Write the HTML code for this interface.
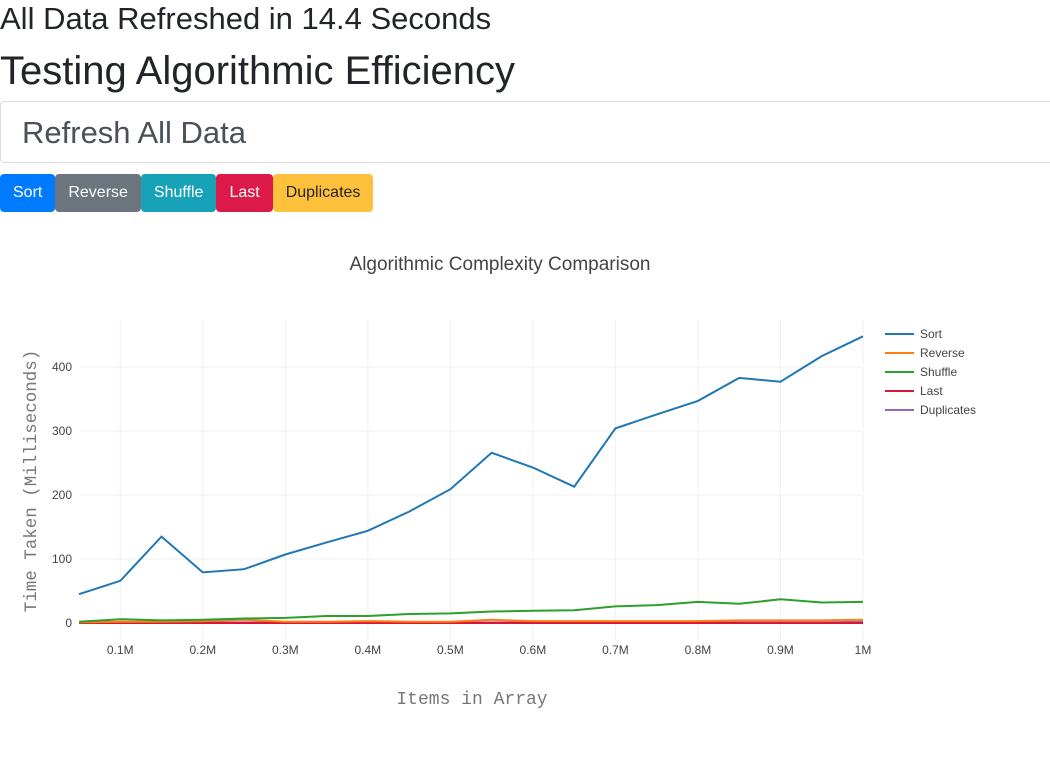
<!DOCTYPE html>
<html><head><meta charset="utf-8"><style>
body{margin:0;width:1050px;height:771px;overflow:hidden;background:#fff;font-family:"Liberation Sans",sans-serif;color:#212529}
h4{margin:0;position:absolute;left:0;top:1px;font-size:31px;font-weight:500;line-height:36px}
h1{margin:0;position:absolute;left:0;top:48px;font-size:40px;font-weight:500;line-height:46px}
.refresh{position:absolute;left:0;top:101px;width:1060px;height:62px;border:1px solid #dcdcdc;border-radius:4px;box-sizing:border-box;font-size:31px;color:#495057;padding-left:21px;line-height:62px}
.btns{position:absolute;left:0;top:174px;display:flex}
.b{height:38px;line-height:38px;font-size:16px;color:#fff;padding:0 13px;border-radius:4px}
</style></head><body>
<h4>All Data Refreshed in 14.4 Seconds</h4>
<h1>Testing Algorithmic Efficiency</h1>
<div class="refresh">Refresh All Data</div>
<div class="btns">
<div class="b" style="background:#007bff">Sort</div>
<div class="b" style="background:#6c757d">Reverse</div>
<div class="b" style="background:#17a2b8">Shuffle</div>
<div class="b" style="background:#dc1a4a">Last</div>
<div class="b" style="background:#ffc03c;color:#212529">Duplicates</div>
</div>
<svg id="s" width="1050" height="771" style="position:absolute;left:0;top:0" font-family="Liberation Sans, sans-serif">
<text x="500" y="270" text-anchor="middle" font-size="19" fill="#444">Algorithmic Complexity Comparison</text>
<text x="472" y="704" text-anchor="middle" font-size="18" fill="#777" font-family="Liberation Mono, monospace">Items in Array</text>
<text transform="translate(36,481) rotate(-90)" text-anchor="middle" font-size="17.5" fill="#777" font-family="Liberation Mono, monospace">Time Taken (Milliseconds)</text>
<g id="g"></g>
</svg>
<script>
var g=document.getElementById('g'),h='';
function X(i){return 79+i*784/19} function Y(v){return 623-v*0.64}
for(var k=1;k<=10;k++){var x=X(2*k-1);h+='<line x1="'+x+'" x2="'+x+'" y1="320" y2="640" stroke="#f0f0f0"/>';
h+='<text x="'+x+'" y="654" text-anchor="middle" font-size="12" fill="#444">'+(k==10?'1M':'0.'+k+'M')+'</text>';}
for(var v=0;v<=400;v+=100){var y=Y(v);h+='<line x1="79" x2="863" y1="'+y+'" y2="'+y+'" stroke="'+(v?'#f0f0f0':'#ddd')+'"/>';
h+='<text x="72" y="'+(y+4)+'" text-anchor="end" font-size="12" fill="#444">'+v+'</text>';}
var S=[
['Duplicates','#9467bd',[1,1,1,1,1,1,1,1,1,1,1,1,1,1,1,1,1,1,1,2]],
['Last','#dc143c',[0,0,0,0,0,0,0,0,0,0,0,0,0,0,0,0,0,0,0,0]],
['Reverse','#ff7f0e',[1,2,2,3,5,2,2,3,2,2,5,3,3,3,3,3,4,4,4,5]],
['Shuffle','#2ca02c',[2,6,4,5,7,8,11,11,14,15,18,19,20,26,28,33,30,37,32,33]],
['Sort','#1f77b4',[45,66,135,79,84,107,126,144,174,209,266,243,213,304,326,347,383,377,417,448]]];
S.forEach(function(s){var p=s[2].map(function(v,i){return X(i).toFixed(1)+','+Y(v).toFixed(1)}).join(' ');
h+='<polyline points="'+p+'" fill="none" stroke="'+s[1]+'" stroke-width="2"/>';});
var L=[['Sort','#1f77b4'],['Reverse','#ff7f0e'],['Shuffle','#2ca02c'],['Last','#dc143c'],['Duplicates','#9467bd']];
L.forEach(function(l,i){var y=334+i*19;h+='<line x1="885" x2="914" y1="'+y+'" y2="'+y+'" stroke="'+l[1]+'" stroke-width="2"/><text x="920" y="'+(y+4)+'" font-size="12" fill="#444">'+l[0]+'</text>';});
g.innerHTML=h;
</script>
</body></html>
